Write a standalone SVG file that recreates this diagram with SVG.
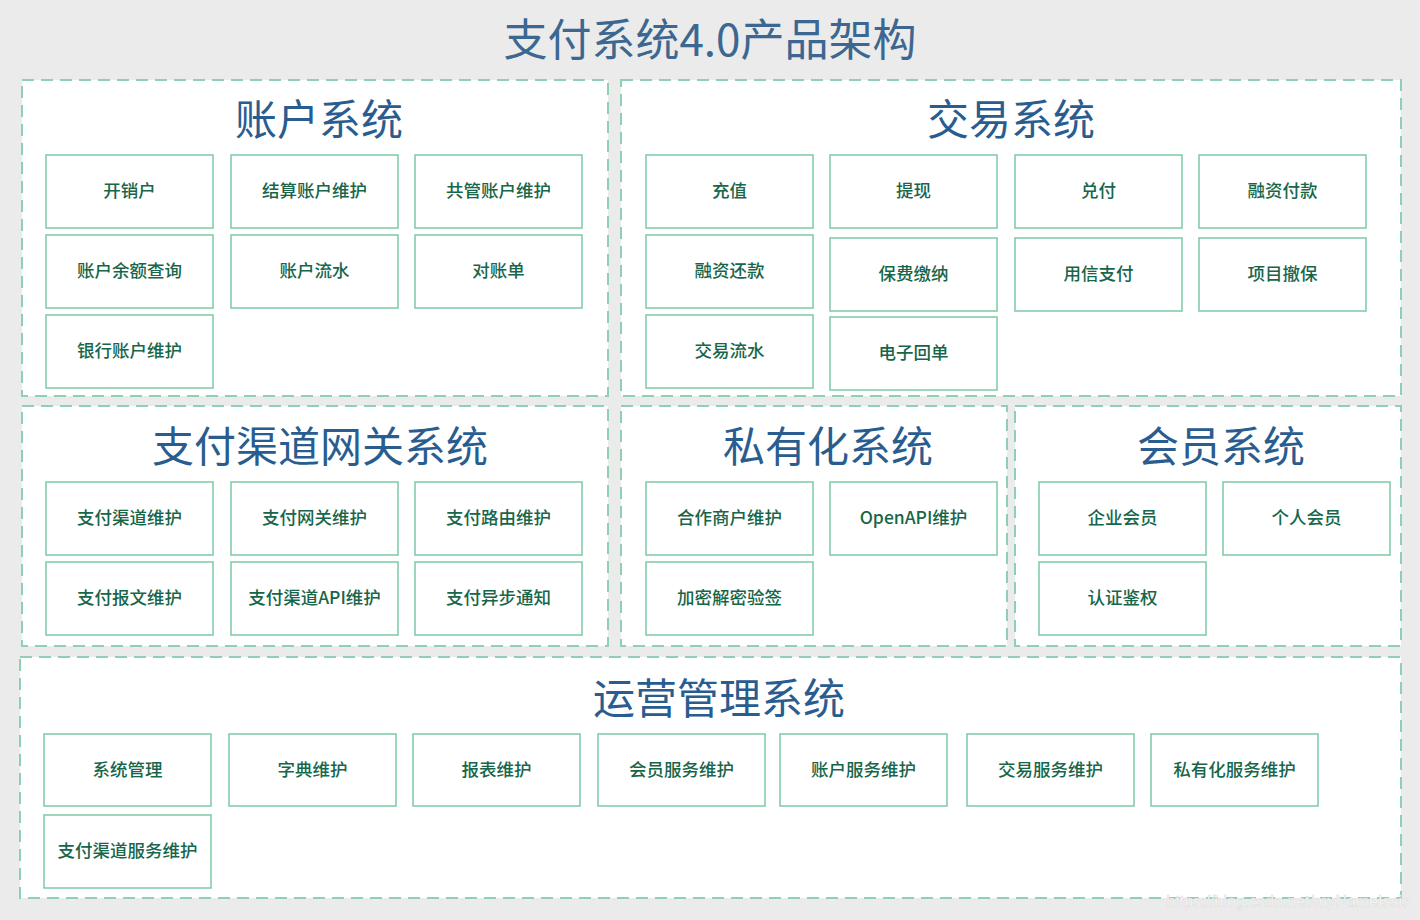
<svg xmlns="http://www.w3.org/2000/svg" width="1420" height="920" viewBox="0 0 1420 920">
<style>
.bg{fill:#ebebeb}
.panel{fill:#ffffff;stroke:#8fd0b4;stroke-width:2;stroke-dasharray:12 7}
.box{fill:#ffffff;stroke:#7ccaa6;stroke-width:1.5}
.bt{font-family:"Noto Sans CJK SC","Noto Sans",sans-serif;font-size:17.5px;font-weight:500;fill:#17664a;text-anchor:middle;dominant-baseline:central;transform:translateY(-2px)}
.pt{font-family:"Noto Sans CJK SC","Noto Sans",sans-serif;font-size:42px;fill:#2a5d8f;text-anchor:middle;dominant-baseline:central;transform:translateY(-3px)}
.mt{font-family:"Noto Sans CJK SC","Noto Sans",sans-serif;font-size:44px;fill:#3b6790;text-anchor:middle;dominant-baseline:central;transform:translateY(-3px)}
.wm{font-family:"Liberation Sans",Arial,sans-serif;font-size:16px;fill:#ffffff;stroke:#d8d8d8;stroke-width:0.5;text-anchor:end}
</style>
<rect class="bg" x="0" y="0" width="1420" height="920"/>
<text class="mt" x="710" y="40">支付系统4.0产品架构</text>

<g id="panel-account">
<rect class="panel" x="22" y="80" width="586" height="316"/>
<text class="pt" x="319" y="119">账户系统</text>
</g>
<g id="panel-trade">
<rect class="panel" x="621" y="80" width="780" height="316"/>
<text class="pt" x="1011" y="119">交易系统</text>
</g>
<g id="panel-gateway">
<rect class="panel" x="22" y="406" width="586" height="240"/>
<text class="pt" x="320" y="446">支付渠道网关系统</text>
</g>
<g id="panel-private">
<rect class="panel" x="621" y="406" width="386" height="240"/>
<text class="pt" x="828" y="446">私有化系统</text>
</g>
<g id="panel-member">
<rect class="panel" x="1015" y="406" width="386" height="240"/>
<text class="pt" x="1221" y="446">会员系统</text>
</g>
<g id="panel-ops">
<rect class="panel" x="20" y="657" width="1381" height="241"/>
<text class="pt" x="719" y="698">运营管理系统</text>
</g>

<g id="n-kaixiaohu"><rect class="box" x="46" y="155" width="167" height="73"/><text class="bt" x="129.5" y="191.5">开销户</text></g>
<g id="n-jiesuan"><rect class="box" x="231" y="155" width="167" height="73"/><text class="bt" x="314.5" y="191.5">结算账户维护</text></g>
<g id="n-gongguan"><rect class="box" x="415" y="155" width="167" height="73"/><text class="bt" x="498.5" y="191.5">共管账户维护</text></g>
<g id="n-yue"><rect class="box" x="46" y="235" width="167" height="73"/><text class="bt" x="129.5" y="271.5">账户余额查询</text></g>
<g id="n-liushui"><rect class="box" x="231" y="235" width="167" height="73"/><text class="bt" x="314.5" y="271.5">账户流水</text></g>
<g id="n-duizhang"><rect class="box" x="415" y="235" width="167" height="73"/><text class="bt" x="498.5" y="271.5">对账单</text></g>
<g id="n-yinhang"><rect class="box" x="46" y="315" width="167" height="73"/><text class="bt" x="129.5" y="351.5">银行账户维护</text></g>

<g id="n-chongzhi"><rect class="box" x="646" y="155" width="167" height="73"/><text class="bt" x="729.5" y="191.5">充值</text></g>
<g id="n-tixian"><rect class="box" x="830" y="155" width="167" height="73"/><text class="bt" x="913.5" y="191.5">提现</text></g>
<g id="n-duifu"><rect class="box" x="1015" y="155" width="167" height="73"/><text class="bt" x="1098.5" y="191.5">兑付</text></g>
<g id="n-rongzifukuan"><rect class="box" x="1199" y="155" width="167" height="73"/><text class="bt" x="1282.5" y="191.5">融资付款</text></g>
<g id="n-rongzihuankuan"><rect class="box" x="646" y="235" width="167" height="73"/><text class="bt" x="729.5" y="271.5">融资还款</text></g>
<g id="n-baofei"><rect class="box" x="830" y="238" width="167" height="73"/><text class="bt" x="913.5" y="274.5">保费缴纳</text></g>
<g id="n-yongxin"><rect class="box" x="1015" y="238" width="167" height="73"/><text class="bt" x="1098.5" y="274.5">用信支付</text></g>
<g id="n-chebao"><rect class="box" x="1199" y="238" width="167" height="73"/><text class="bt" x="1282.5" y="274.5">项目撤保</text></g>
<g id="n-jiaoyiliushui"><rect class="box" x="646" y="315" width="167" height="73"/><text class="bt" x="729.5" y="351.5">交易流水</text></g>
<g id="n-huidan"><rect class="box" x="830" y="317" width="167" height="73"/><text class="bt" x="913.5" y="353.5">电子回单</text></g>

<g id="n-qudao"><rect class="box" x="46" y="482" width="167" height="73"/><text class="bt" x="129.5" y="518.5">支付渠道维护</text></g>
<g id="n-wangguan"><rect class="box" x="231" y="482" width="167" height="73"/><text class="bt" x="314.5" y="518.5">支付网关维护</text></g>
<g id="n-luyou"><rect class="box" x="415" y="482" width="167" height="73"/><text class="bt" x="498.5" y="518.5">支付路由维护</text></g>
<g id="n-baowen"><rect class="box" x="46" y="562" width="167" height="73"/><text class="bt" x="129.5" y="598.5">支付报文维护</text></g>
<g id="n-qudaoapi"><rect class="box" x="231" y="562" width="167" height="73"/><text class="bt" x="314.5" y="598.5">支付渠道API维护</text></g>
<g id="n-yibu"><rect class="box" x="415" y="562" width="167" height="73"/><text class="bt" x="498.5" y="598.5">支付异步通知</text></g>

<g id="n-hezuo"><rect class="box" x="646" y="482" width="167" height="73"/><text class="bt" x="729.5" y="518.5">合作商户维护</text></g>
<g id="n-openapi"><rect class="box" x="830" y="482" width="167" height="73"/><text class="bt" x="913.5" y="518.5">OpenAPI维护</text></g>
<g id="n-jiami"><rect class="box" x="646" y="562" width="167" height="73"/><text class="bt" x="729.5" y="598.5">加密解密验签</text></g>

<g id="n-qiye"><rect class="box" x="1039" y="482" width="167" height="73"/><text class="bt" x="1122.5" y="518.5">企业会员</text></g>
<g id="n-geren"><rect class="box" x="1223" y="482" width="167" height="73"/><text class="bt" x="1306.5" y="518.5">个人会员</text></g>
<g id="n-renzheng"><rect class="box" x="1039" y="562" width="167" height="73"/><text class="bt" x="1122.5" y="598.5">认证鉴权</text></g>

<g id="n-xitong"><rect class="box" x="44" y="734" width="167" height="72"/><text class="bt" x="127.5" y="770">系统管理</text></g>
<g id="n-zidian"><rect class="box" x="229" y="734" width="167" height="72"/><text class="bt" x="312.5" y="770">字典维护</text></g>
<g id="n-baobiao"><rect class="box" x="413" y="734" width="167" height="72"/><text class="bt" x="496.5" y="770">报表维护</text></g>
<g id="n-huiyuanfuwu"><rect class="box" x="598" y="734" width="167" height="72"/><text class="bt" x="681.5" y="770">会员服务维护</text></g>
<g id="n-zhanghufuwu"><rect class="box" x="780" y="734" width="167" height="72"/><text class="bt" x="863.5" y="770">账户服务维护</text></g>
<g id="n-jiaoyifuwu"><rect class="box" x="967" y="734" width="167" height="72"/><text class="bt" x="1050.5" y="770">交易服务维护</text></g>
<g id="n-siyouhuafuwu"><rect class="box" x="1151" y="734" width="167" height="72"/><text class="bt" x="1234.5" y="770">私有化服务维护</text></g>
<g id="n-qudaofuwu"><rect class="box" x="44" y="815" width="167" height="73"/><text class="bt" x="127.5" y="851.5">支付渠道服务维护</text></g>

<g id="connectors"></g>
<text class="wm" x="1410" y="907">https://blog.csdn.net/myNameIssis</text>
</svg>
